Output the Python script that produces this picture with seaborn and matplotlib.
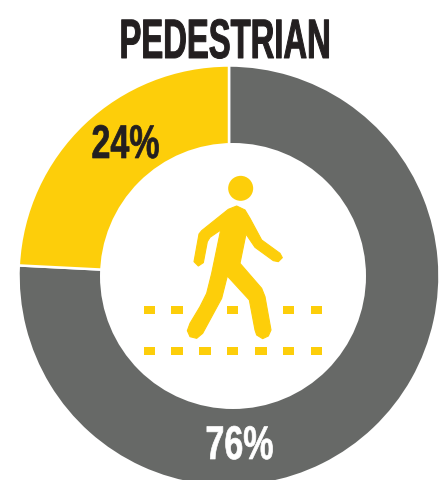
import matplotlib
matplotlib.use('Agg')
import matplotlib.pyplot as plt
import seaborn as sns
from matplotlib.patheffects import AbstractPathEffect
from matplotlib.patches import Circle, Rectangle
from matplotlib.transforms import Affine2D

# data
categories = ['Other', 'Pedestrian']
shares = [75.8, 24.2]
share_labels = ['76%', '24%']
title = 'PEDESTRIAN'

GREY = '#676967'
YELLOW = '#FDCE0A'
DARK = '#231F20'


# squeezes real text sideways, there is no condensed bold font installed
class Condensed(AbstractPathEffect):
    def __init__(self, sx, cx, stroke):
        super().__init__()
        self.sx, self.cx, self.stroke = sx, cx, stroke

    def draw_path(self, renderer, gc, tpath, affine, rgbFace=None):
        squeeze = Affine2D().translate(-self.cx, 0).scale(self.sx, 1).translate(self.cx, 0)
        gc0 = renderer.new_gc()
        gc0.copy_properties(gc)
        gc0.set_linewidth(self.stroke)
        gc0.set_foreground(rgbFace)
        renderer.draw_path(gc0, tpath, affine + squeeze, rgbFace)
        gc0.restore()


sns.set_theme(style='white')
plt.rcParams['font.family'] = ['Liberation Sans', 'DejaVu Sans']

fig = plt.figure(figsize=(4.45, 4.8), dpi=100)
ax = fig.add_axes([0, 0, 1, 1])

# donut, axes units are pixels of the picture (y up)
palette = sns.color_palette([GREY, YELLOW])
ax.pie(shares, colors=palette, startangle=90, counterclock=False,
       center=(229, 204), radius=210.5,
       wedgeprops=dict(edgecolor='white', linewidth=1.8))
# the hole sits a little right of the ring's centre in the original
ax.add_patch(Circle((233, 204), 133, color='white', lw=0, zorder=2))
ax.set_xlim(0, 445)
ax.set_ylim(0, 480)
ax.set_aspect('equal')
ax.axis('off')

# title and labels
ax.text(225, 422, title, ha='center', va='baseline', fontsize=40, fontweight='bold',
        color=DARK, path_effects=[Condensed(0.59, 225, 0.7)], zorder=4)
ax.text(125.5, 322, share_labels[1], ha='center', va='baseline', fontsize=34, fontweight='bold',
        color=DARK, path_effects=[Condensed(0.72, 125.5, 0.5)], zorder=4)
ax.text(239.5, 21, share_labels[0], ha='center', va='baseline', fontsize=34, fontweight='bold',
        color='white', path_effects=[Condensed(0.72, 239.5, 0.5)], zorder=4)


# pedestrian icon
def px(x, y):
    return 130 + x / 3, 480 - (160 + y / 3)


body = [(320, 138), (345, 150), (360, 175), (395, 240), (450, 280), (457, 293), (445, 305),
        (430, 302), (375, 262), (360, 240), (348, 222), (330, 310), (395, 385), (405, 410),
        (423, 510), (415, 528), (398, 536), (380, 525), (375, 510), (358, 420), (292, 348),
        (275, 415), (218, 520), (200, 535), (180, 530), (172, 512), (180, 490), (210, 440),
        (230, 400), (245, 340), (272, 210), (240, 232), (232, 245), (220, 308), (205, 318),
        (192, 305), (207, 222), (215, 212), (295, 148)]
ax.fill(*zip(*[px(x, y) for x, y in body]), facecolor=YELLOW, edgecolor=YELLOW, lw=0.8,
        joinstyle='round', zorder=3)
ax.add_patch(Circle(px(332, 85), 12.5, color=YELLOW, lw=0, zorder=3))

top_row = [58, 141, 308, 476, 560]
bottom_row = [58, 141, 225, 308, 393, 476, 560]
for row, yc in ((top_row, 451), (bottom_row, 573)):
    for xc in row:
        x0, y0 = px(xc - 17, yc + 12)
        ax.add_patch(Rectangle((x0, y0), 34 / 3, 24 / 3, color=YELLOW, lw=0, zorder=3))

fig.savefig('out.png', dpi=100, facecolor='white')
